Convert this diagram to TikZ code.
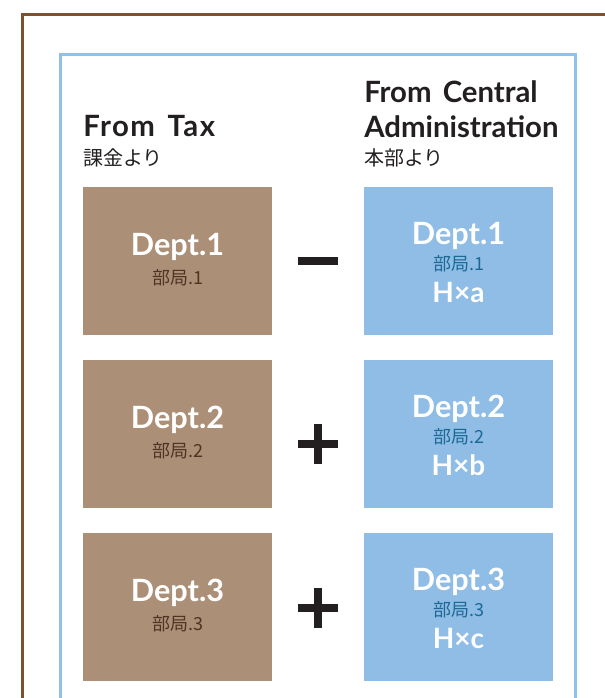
\documentclass[tikz,border=0pt]{standalone}
\usepackage{fontspec}
\setmainfont{Lato}
\newfontfamily\jpfont{Noto Sans CJK JP}
\usepackage{tikz}

\definecolor{framebrown}{RGB}{122,82,48}
\definecolor{frameblue}{RGB}{145,192,232}
\definecolor{taxbrown}{RGB}{172,143,119}
\definecolor{cenblue}{RGB}{143,189,229}
\definecolor{jpbrown}{RGB}{78,52,36}
\definecolor{jpblue}{RGB}{28,104,150}
\definecolor{inkblack}{RGB}{35,31,32}

\begin{document}
\begin{tikzpicture}[x = 0.75pt, y = -0.75pt,
		deptbox/.style = {rectangle, minimum width = 189*0.75pt, minimum height = 148*0.75pt, inner sep = 0pt},
		deptname/.style = {anchor = base, text = white, font = \fontsize{23}{24}\selectfont\bfseries},
		deptjp/.style = {anchor = base, font = \fontsize{13.5}{15}\selectfont\jpfont},
		share/.style = {anchor = base, text = white, font = \fontsize{21}{22}\selectfont\bfseries},
		heading/.style = {anchor = base west, inner sep = 0pt, text = inkblack, font = \fontsize{22}{24}\selectfont\bfseries},
		subheading/.style = {anchor = base west, inner sep = 0pt, text = inkblack, font = \fontsize{15}{17}\selectfont\jpfont},
		opsign/.style = {rectangle, minimum size = 40*0.75pt, inner sep = 0pt},
		signbar/.style = {inkblack, line width = 7.5*0.75pt}]
		\useasboundingbox (0, 0) rectangle (605, 698);
		% frames
		\draw[framebrown, line width = 3*0.75pt] (22, 705) -- (22, 15) -- (610, 15);
		\draw[frameblue, line width = 3*0.75pt] (60, 705) -- (60, 55) -- (575, 55) -- (575, 705);
		% column headings
		\node[heading] (taxhead) at (83, 137) {\addfontfeature{LetterSpace=5}From\ \hspace{3pt}Tax};
			\node[subheading] (taxsub) at (83, 166) {課金より};
		\node[heading] (cenhead1) at (364, 103) {From\ \hspace{3pt}Central};
		\node[heading] (cenhead2) at (364, 138) {Administration};
			\node[subheading] (censub) at (364, 166) {本部より};
		% departments
		\foreach \n/\t/\h in {1/187/a, 2/360/b, 3/533/c}{
			\node[deptbox, fill = taxbrown] (tax\n) at (177.5, \t + 74) {};
			\node[deptname] (tax\n name) at (177.5, \t + 68) {Dept.\n};
			\node[deptjp, text = jpbrown] (tax\n jp) at (177.5, \t + 97) {部局.\n};
			\node[deptbox, fill = cenblue] (cen\n) at (458.5, \t + 74) {};
			\node[deptname] (cen\n name) at (458.5, \t + 57) {Dept.\n};
			\node[deptjp, text = jpblue] (cen\n jp) at (458.5, \t + 83) {部局.\n};
			\node[share] (cen\n share) at (458.5, \t + 115) {H×\h};
		}
		% signs
		\node[opsign] (op1) at (318, 261) {};
		\node[opsign] (op2) at (318, 444) {};
		\node[opsign] (op3) at (318, 608) {};
		\draw[signbar] (op1.west) -- (op1.east);
		\foreach \n in {2, 3}
			\draw[signbar] (op\n.west) -- (op\n.east) (op\n.north) -- (op\n.south);
	\end{tikzpicture}
\end{document}
